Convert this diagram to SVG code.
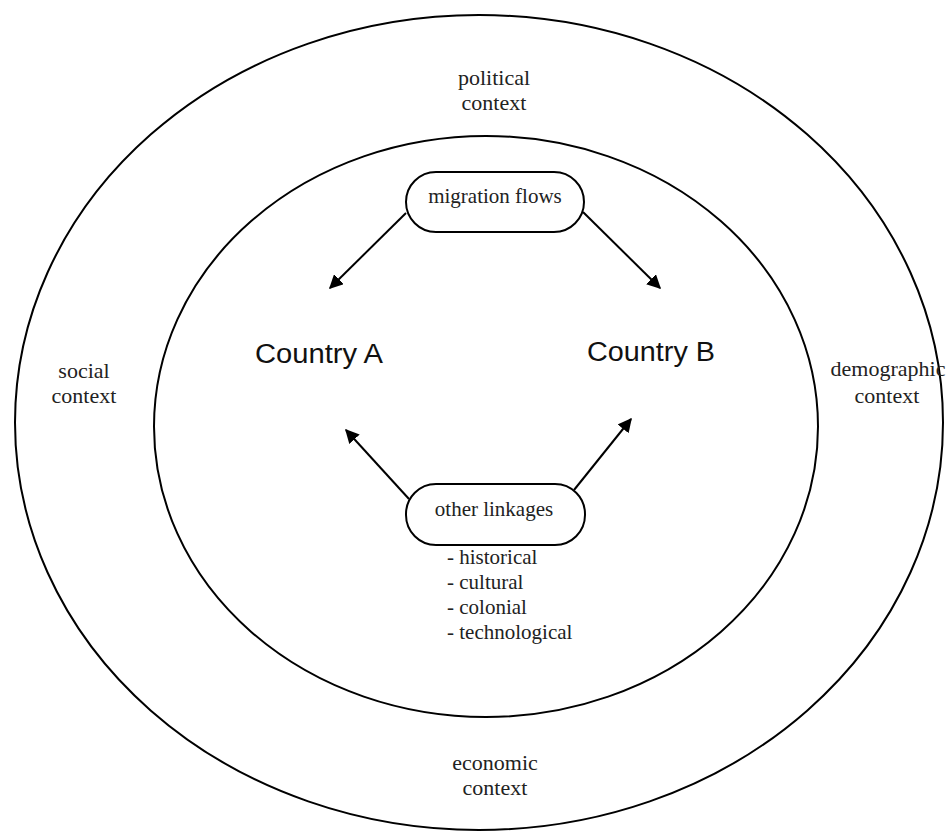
<svg xmlns="http://www.w3.org/2000/svg" width="946" height="833" viewBox="0 0 946 833">
<defs>
<style>
.ring{fill:none;stroke:#000;stroke-width:2}
.box{fill:#fff;stroke:#000;stroke-width:2}
.serif{font-family:"Liberation Serif","Times New Roman",serif;font-size:21px;fill:#222}
.ctx{font-family:"Liberation Serif","Times New Roman",serif;font-size:22px;fill:#222;text-anchor:middle}
.country{font-family:"Liberation Sans",Arial,sans-serif;font-size:27px;fill:#111}
.arrow{stroke:#000;stroke-width:2;fill:none;marker-end:url(#ah)}
</style>
<marker id="ah" viewBox="0 0 10 10" refX="9" refY="5" markerWidth="7" markerHeight="7" markerUnits="strokeWidth" orient="auto">
<path d="M0,0 L10,5 L0,10 z" fill="#000"/>
</marker>
</defs>
<rect width="946" height="833" fill="#fff"/>
<g id="outer-context">
<ellipse class="ring" cx="479" cy="422.5" rx="464" ry="407.5"/>
<text class="ctx" x="494" y="85">political</text>
<text class="ctx" x="494" y="110">context</text>
<text class="ctx" x="84" y="378">social</text>
<text class="ctx" x="84" y="403">context</text>
<text class="ctx" x="888" y="376">demographic</text>
<text class="ctx" x="887" y="403">context</text>
<text class="ctx" x="495" y="770">economic</text>
<text class="ctx" x="495" y="795">context</text>
</g>
<g id="inner-ring">
<ellipse class="ring" cx="486" cy="426.5" rx="332" ry="290.5"/>
</g>
<g id="country-a">
<text class="country" x="255" y="363" textLength="128" lengthAdjust="spacingAndGlyphs">Country A</text>
</g>
<g id="country-b">
<text class="country" x="587" y="361" textLength="128" lengthAdjust="spacingAndGlyphs">Country B</text>
</g>
<g id="connectors">
<line class="arrow" x1="406" y1="213" x2="330" y2="288"/>
<line class="arrow" x1="583" y1="212" x2="660" y2="288"/>
<line class="arrow" x1="409" y1="499" x2="346" y2="430"/>
<line class="arrow" x1="574" y1="490" x2="631" y2="419"/>
</g>
<g id="migration-flows">
<rect class="box" x="406" y="172" width="178" height="60" rx="30" ry="30"/>
<text class="serif" x="495" y="203" text-anchor="middle">migration flows</text>
</g>
<g id="other-linkages">
<rect class="box" x="406" y="484" width="179" height="61" rx="30" ry="30"/>
<text class="serif" x="494" y="516" text-anchor="middle">other linkages</text>
<text class="serif" x="447" y="564">- historical</text>
<text class="serif" x="447" y="589">- cultural</text>
<text class="serif" x="447" y="614">- colonial</text>
<text class="serif" x="447" y="639">- technological</text>
</g>
</svg>
